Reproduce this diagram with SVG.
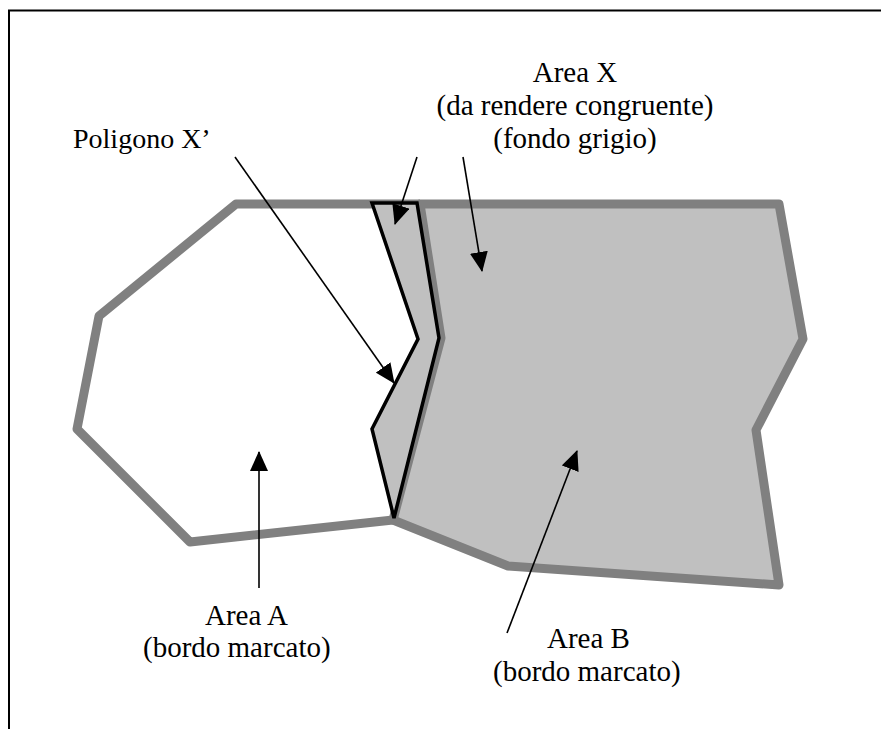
<svg xmlns="http://www.w3.org/2000/svg" width="881" height="729" viewBox="0 0 881 729">
<style>
.t{font-family:"Liberation Serif","Times New Roman",serif;font-size:29px;fill:#000}
.ar{stroke:#000;stroke-width:1.6;fill:none;marker-end:url(#ah)}
.edge{stroke:#808080;stroke-width:9;stroke-linejoin:round;fill:none}
</style>
<defs>
<marker id="ah" markerWidth="20" markerHeight="18" refX="19" refY="9" orient="auto" markerUnits="userSpaceOnUse">
<path d="M0,0 L20,9 L0,18 z" fill="#000"/>
</marker>
</defs>
<rect width="881" height="729" fill="#fff"/>
<g id="frame" fill="none" stroke="#000" stroke-width="2">
<path d="M9,729 V10.5 H881"/>
</g>
<g id="areaB">
<polygon points="393,520 508,566 779,585 756,430 803,339 779,204 420,204 441,338" fill="#c0c0c0" stroke="#808080" stroke-width="9" stroke-linejoin="round"/>
</g>
<g id="areaA">
<polyline class="edge" points="393,520 190,542 77,429 99,316 236,204 420,204"/>
</g>
<g id="poligonoX">
<polygon points="372,203 417,203 439,338 394,518 372,429 418,339" fill="#c0c0c0" stroke="#000" stroke-width="3.5" stroke-linejoin="miter"/>
</g>
<g id="connectors">
<line class="ar" x1="235" y1="157" x2="394" y2="383"/>
<line class="ar" x1="417" y1="157" x2="395" y2="224"/>
<line class="ar" x1="463" y1="157" x2="482" y2="271"/>
<line class="ar" x1="259" y1="588" x2="259" y2="452"/>
<line class="ar" x1="507" y1="633" x2="577" y2="451"/>
</g>
<g id="labels">
<text class="t" x="73" y="148" style="font-size:28px">Poligono X’</text>
<text class="t" x="575" y="82" text-anchor="middle">Area X</text>
<text class="t" x="575" y="115" text-anchor="middle">(da rendere congruente)</text>
<text class="t" x="575" y="148" text-anchor="middle">(fondo grigio)</text>
<text class="t" x="205" y="625">Area A</text>
<text class="t" x="143" y="657">(bordo marcato)</text>
<text class="t" x="547" y="648">Area B</text>
<text class="t" x="493" y="681">(bordo marcato)</text>
</g>
</svg>
